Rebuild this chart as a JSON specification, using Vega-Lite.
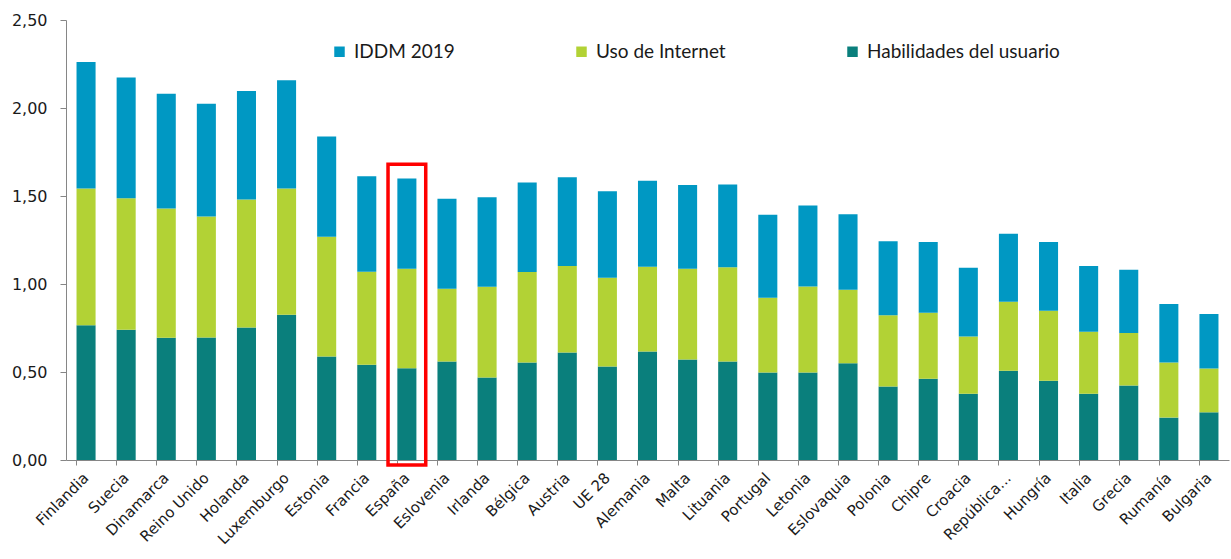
{
  "$schema": "https://vega.github.io/schema/vega-lite/v6.json",
  "width": 1163,
  "height": 440,
  "autosize": {"type": "none"},
  "padding": {"left": 66, "top": 20, "right": 2, "bottom": 99},
  "background": "white",
  "config": {
    "view": {"stroke": null},
    "axis": {"domainColor": "#868686", "tickColor": "#868686", "labelColor": "#1a1a1a", "grid": false, "title": null}
  },
  "datasets": {
    "barras": [
      {"pais": "Finlandia", "serie": "Habilidades del usuario", "valor": 0.766, "orden": 1},
      {"pais": "Finlandia", "serie": "Uso de Internet", "valor": 0.776, "orden": 2},
      {"pais": "Finlandia", "serie": "IDDM 2019", "valor": 0.719, "orden": 3},
      {"pais": "Suecia", "serie": "Habilidades del usuario", "valor": 0.740, "orden": 1},
      {"pais": "Suecia", "serie": "Uso de Internet", "valor": 0.747, "orden": 2},
      {"pais": "Suecia", "serie": "IDDM 2019", "valor": 0.687, "orden": 3},
      {"pais": "Dinamarca", "serie": "Habilidades del usuario", "valor": 0.694, "orden": 1},
      {"pais": "Dinamarca", "serie": "Uso de Internet", "valor": 0.735, "orden": 2},
      {"pais": "Dinamarca", "serie": "IDDM 2019", "valor": 0.652, "orden": 3},
      {"pais": "Reino Unido", "serie": "Habilidades del usuario", "valor": 0.696, "orden": 1},
      {"pais": "Reino Unido", "serie": "Uso de Internet", "valor": 0.687, "orden": 2},
      {"pais": "Reino Unido", "serie": "IDDM 2019", "valor": 0.641, "orden": 3},
      {"pais": "Holanda", "serie": "Habilidades del usuario", "valor": 0.753, "orden": 1},
      {"pais": "Holanda", "serie": "Uso de Internet", "valor": 0.727, "orden": 2},
      {"pais": "Holanda", "serie": "IDDM 2019", "valor": 0.616, "orden": 3},
      {"pais": "Luxemburgo", "serie": "Habilidades del usuario", "valor": 0.825, "orden": 1},
      {"pais": "Luxemburgo", "serie": "Uso de Internet", "valor": 0.717, "orden": 2},
      {"pais": "Luxemburgo", "serie": "IDDM 2019", "valor": 0.615, "orden": 3},
      {"pais": "Estonia", "serie": "Habilidades del usuario", "valor": 0.588, "orden": 1},
      {"pais": "Estonia", "serie": "Uso de Internet", "valor": 0.681, "orden": 2},
      {"pais": "Estonia", "serie": "IDDM 2019", "valor": 0.569, "orden": 3},
      {"pais": "Francia", "serie": "Habilidades del usuario", "valor": 0.541, "orden": 1},
      {"pais": "Francia", "serie": "Uso de Internet", "valor": 0.529, "orden": 2},
      {"pais": "Francia", "serie": "IDDM 2019", "valor": 0.542, "orden": 3},
      {"pais": "España", "serie": "Habilidades del usuario", "valor": 0.522, "orden": 1},
      {"pais": "España", "serie": "Uso de Internet", "valor": 0.565, "orden": 2},
      {"pais": "España", "serie": "IDDM 2019", "valor": 0.513, "orden": 3},
      {"pais": "Eslovenia", "serie": "Habilidades del usuario", "valor": 0.560, "orden": 1},
      {"pais": "Eslovenia", "serie": "Uso de Internet", "valor": 0.413, "orden": 2},
      {"pais": "Eslovenia", "serie": "IDDM 2019", "valor": 0.511, "orden": 3},
      {"pais": "Irlanda", "serie": "Habilidades del usuario", "valor": 0.469, "orden": 1},
      {"pais": "Irlanda", "serie": "Uso de Internet", "valor": 0.516, "orden": 2},
      {"pais": "Irlanda", "serie": "IDDM 2019", "valor": 0.508, "orden": 3},
      {"pais": "Bélgica", "serie": "Habilidades del usuario", "valor": 0.554, "orden": 1},
      {"pais": "Bélgica", "serie": "Uso de Internet", "valor": 0.514, "orden": 2},
      {"pais": "Bélgica", "serie": "IDDM 2019", "valor": 0.509, "orden": 3},
      {"pais": "Austria", "serie": "Habilidades del usuario", "valor": 0.611, "orden": 1},
      {"pais": "Austria", "serie": "Uso de Internet", "valor": 0.491, "orden": 2},
      {"pais": "Austria", "serie": "IDDM 2019", "valor": 0.505, "orden": 3},
      {"pais": "UE 28", "serie": "Habilidades del usuario", "valor": 0.531, "orden": 1},
      {"pais": "UE 28", "serie": "Uso de Internet", "valor": 0.505, "orden": 2},
      {"pais": "UE 28", "serie": "IDDM 2019", "valor": 0.491, "orden": 3},
      {"pais": "Alemania", "serie": "Habilidades del usuario", "valor": 0.616, "orden": 1},
      {"pais": "Alemania", "serie": "Uso de Internet", "valor": 0.482, "orden": 2},
      {"pais": "Alemania", "serie": "IDDM 2019", "valor": 0.488, "orden": 3},
      {"pais": "Malta", "serie": "Habilidades del usuario", "valor": 0.571, "orden": 1},
      {"pais": "Malta", "serie": "Uso de Internet", "valor": 0.516, "orden": 2},
      {"pais": "Malta", "serie": "IDDM 2019", "valor": 0.476, "orden": 3},
      {"pais": "Lituania", "serie": "Habilidades del usuario", "valor": 0.560, "orden": 1},
      {"pais": "Lituania", "serie": "Uso de Internet", "valor": 0.535, "orden": 2},
      {"pais": "Lituania", "serie": "IDDM 2019", "valor": 0.470, "orden": 3},
      {"pais": "Portugal", "serie": "Habilidades del usuario", "valor": 0.497, "orden": 1},
      {"pais": "Portugal", "serie": "Uso de Internet", "valor": 0.425, "orden": 2},
      {"pais": "Portugal", "serie": "IDDM 2019", "valor": 0.471, "orden": 3},
      {"pais": "Letonia", "serie": "Habilidades del usuario", "valor": 0.497, "orden": 1},
      {"pais": "Letonia", "serie": "Uso de Internet", "valor": 0.489, "orden": 2},
      {"pais": "Letonia", "serie": "IDDM 2019", "valor": 0.460, "orden": 3},
      {"pais": "Eslovaquia", "serie": "Habilidades del usuario", "valor": 0.550, "orden": 1},
      {"pais": "Eslovaquia", "serie": "Uso de Internet", "valor": 0.418, "orden": 2},
      {"pais": "Eslovaquia", "serie": "IDDM 2019", "valor": 0.428, "orden": 3},
      {"pais": "Polonia", "serie": "Habilidades del usuario", "valor": 0.417, "orden": 1},
      {"pais": "Polonia", "serie": "Uso de Internet", "valor": 0.406, "orden": 2},
      {"pais": "Polonia", "serie": "IDDM 2019", "valor": 0.420, "orden": 3},
      {"pais": "Chipre", "serie": "Habilidades del usuario", "valor": 0.461, "orden": 1},
      {"pais": "Chipre", "serie": "Uso de Internet", "valor": 0.376, "orden": 2},
      {"pais": "Chipre", "serie": "IDDM 2019", "valor": 0.402, "orden": 3},
      {"pais": "Croacia", "serie": "Habilidades del usuario", "valor": 0.377, "orden": 1},
      {"pais": "Croacia", "serie": "Uso de Internet", "valor": 0.325, "orden": 2},
      {"pais": "Croacia", "serie": "IDDM 2019", "valor": 0.391, "orden": 3},
      {"pais": "República...", "serie": "Habilidades del usuario", "valor": 0.507, "orden": 1},
      {"pais": "República...", "serie": "Uso de Internet", "valor": 0.392, "orden": 2},
      {"pais": "República...", "serie": "IDDM 2019", "valor": 0.387, "orden": 3},
      {"pais": "Hungría", "serie": "Habilidades del usuario", "valor": 0.450, "orden": 1},
      {"pais": "Hungría", "serie": "Uso de Internet", "valor": 0.398, "orden": 2},
      {"pais": "Hungría", "serie": "IDDM 2019", "valor": 0.391, "orden": 3},
      {"pais": "Italia", "serie": "Habilidades del usuario", "valor": 0.377, "orden": 1},
      {"pais": "Italia", "serie": "Uso de Internet", "valor": 0.352, "orden": 2},
      {"pais": "Italia", "serie": "IDDM 2019", "valor": 0.373, "orden": 3},
      {"pais": "Grecia", "serie": "Habilidades del usuario", "valor": 0.423, "orden": 1},
      {"pais": "Grecia", "serie": "Uso de Internet", "valor": 0.298, "orden": 2},
      {"pais": "Grecia", "serie": "IDDM 2019", "valor": 0.360, "orden": 3},
      {"pais": "Rumanía", "serie": "Habilidades del usuario", "valor": 0.241, "orden": 1},
      {"pais": "Rumanía", "serie": "Uso de Internet", "valor": 0.313, "orden": 2},
      {"pais": "Rumanía", "serie": "IDDM 2019", "valor": 0.332, "orden": 3},
      {"pais": "Bulgaria", "serie": "Habilidades del usuario", "valor": 0.271, "orden": 1},
      {"pais": "Bulgaria", "serie": "Uso de Internet", "valor": 0.249, "orden": 2},
      {"pais": "Bulgaria", "serie": "IDDM 2019", "valor": 0.309, "orden": 3}
    ],
    "marco": [
      {"pais": "España", "desde": -0.028, "hasta": 1.68}
    ]
  },
  "layer": [
    {
      "data": {"name": "barras"},
      "mark": {"type": "bar"},
      "encoding": {
        "x": {
          "field": "pais", "type": "nominal", "sort": null,
          "scale": {"paddingInner": 0.525, "paddingOuter": 0.2625},
          "axis": {
            "labelAngle": -45, "labelFont": "DejaVu Sans", "labelFontSize": 15,
            "bandPosition": 0, "tickSize": 5, "labelPadding": 10,
            "labelAlign": "right", "labelBaseline": "middle", "labelBound": false, "labelOverlap": false
          }
        },
        "y": {
          "field": "valor", "type": "quantitative", "stack": "zero",
          "scale": {"domain": [0, 2.5], "nice": false},
          "axis": {
            "values": [0, 0.5, 1, 1.5, 2, 2.5],
            "labelExpr": "replace(format(datum.value, '.2f'), '.', ',')",
            "labelFont": "DejaVu Sans", "labelFontSize": 16, "tickSize": 6, "labelPadding": 13
          }
        },
        "color": {
          "field": "serie", "type": "nominal",
          "scale": {
            "domain": ["IDDM 2019", "Uso de Internet", "Habilidades del usuario"],
            "range": ["#0098C3", "#B2D235", "#0A7F7C"]
          },
          "legend": {
            "title": null, "orient": "none", "legendX": 264, "legendY": 22,
            "direction": "horizontal", "columns": 3, "columnPadding": 117,
            "symbolType": "square", "symbolSize": 110, "symbolStrokeWidth": 0,
            "labelFont": "Lato", "labelFontSize": 19, "labelColor": "#1a1a1a",
            "labelOffset": 5, "padding": 0, "labelLimit": 400
          }
        },
        "order": {"field": "orden", "type": "quantitative"}
      }
    },
    {
      "data": {"name": "marco"},
      "mark": {"type": "bar", "filled": false, "stroke": "#FF0000", "strokeWidth": 3.5, "width": {"band": 1.98}},
      "encoding": {
        "x": {"field": "pais", "type": "nominal", "sort": null},
        "y": {"field": "desde", "type": "quantitative"},
        "y2": {"field": "hasta"}
      }
    }
  ]
}
